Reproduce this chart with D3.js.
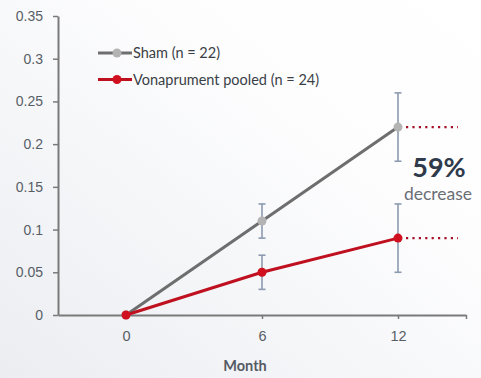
<!DOCTYPE html>
<html>
<head>
<meta charset="utf-8">
<script src="https://cdn.jsdelivr.net/npm/d3@7/dist/d3.min.js"></script>
<style>
  html, body { margin: 0; padding: 0; }
  body { width: 481px; height: 378px; overflow: hidden; }
  svg { display: block; font-family: Lato, "Open Sans", sans-serif; }
</style>
</head>
<body>
<svg id="chart" width="481" height="378"></svg>
<script>
// Months on the x axis
const months = [0, 6, 12];
// Series means and error ranges (half-width)
const shamValues = [0, 0.11, 0.22];
const shamErrors = [0, 0.02, 0.04];
const vonaValues = [0, 0.05, 0.09];
const vonaErrors = [0, 0.02, 0.04];
const yTicks = [0, 0.05, 0.1, 0.15, 0.2, 0.25, 0.3, 0.35];
const seriesNames = ["Sham (n = 22)", "Vonaprument pooled (n = 24)"];
const reduction = "59%";

const svg = d3.select("#chart");
const W = 481, H = 378;
const m = { left: 58, right: 15, top: 16, bottom: 63 };

// soft background gradient
const defs = svg.append("defs");
const grad = defs.append("linearGradient").attr("id", "bg")
  .attr("x1", "0%").attr("y1", "100%").attr("x2", "100%").attr("y2", "0%");
grad.append("stop").attr("offset", "0%").attr("stop-color", "#ebedf1");
grad.append("stop").attr("offset", "65%").attr("stop-color", "#fdfdfe");
grad.append("stop").attr("offset", "100%").attr("stop-color", "#ffffff");
svg.append("rect").attr("width", W).attr("height", H).attr("fill", "url(#bg)");

const x = d3.scaleLinear().domain([-3, 15]).range([m.left, W - m.right]);
const y = d3.scaleLinear().domain([0, 0.35]).range([H - m.bottom, m.top]);

const axisColor = "#7a7a7a";
const textColor = "#585e66";

// y axis
const yAxis = svg.append("g").attr("transform", `translate(${m.left},0)`)
  .call(d3.axisLeft(y).tickValues(yTicks).tickSizeInner(5).tickSizeOuter(0).tickPadding(10)
    .tickFormat(d => d3.format("")(+d.toFixed(2))));
yAxis.select(".domain").attr("stroke", axisColor).attr("stroke-width", 2);
yAxis.selectAll(".tick line").attr("stroke", axisColor).attr("stroke-width", 1.5);
yAxis.selectAll(".tick text").attr("fill", textColor).style("font-size", "14px");

// x axis
const xAxis = svg.append("g").attr("transform", `translate(0,${y(0)})`)
  .call(d3.axisBottom(x).tickValues(months.concat([15])).tickSizeInner(4).tickSizeOuter(0).tickPadding(12)
    .tickFormat(d => months.includes(d) ? d : ""));
xAxis.select(".domain").attr("stroke", axisColor).attr("stroke-width", 2);
xAxis.selectAll(".tick line").attr("stroke", axisColor).attr("stroke-width", 1.5);
xAxis.selectAll(".tick text").attr("fill", textColor).style("font-size", "14.5px");

svg.append("text").attr("x", 245).attr("y", 371).attr("text-anchor", "middle")
  .attr("fill", "#555b63").style("font-size", "14.5px").style("font-weight", "bold").text("Month");

const series = [
  { values: shamValues, errors: shamErrors, line: "#6e6e6e", dot: "#b3b3b3" },
  { values: vonaValues, errors: vonaErrors, line: "#bf1020", dot: "#d0101e" }
];

const errColor = "#8c9ab0";
series.forEach(s => {
  const pts = months.map((mo, i) => ({ mo, v: s.values[i], e: s.errors[i] }));
  // error bars
  const eb = svg.append("g");
  pts.filter(p => p.e > 0).forEach(p => {
    eb.append("line").attr("x1", x(p.mo)).attr("x2", x(p.mo))
      .attr("y1", y(p.v - p.e)).attr("y2", y(p.v + p.e))
      .attr("stroke", errColor).attr("stroke-width", 1.6);
    [p.v - p.e, p.v + p.e].forEach(v => {
      eb.append("line").attr("x1", x(p.mo) - 3.5).attr("x2", x(p.mo) + 3.5)
        .attr("y1", y(v)).attr("y2", y(v))
        .attr("stroke", errColor).attr("stroke-width", 1.6);
    });
  });
});

series.forEach(s => {
  const pts = months.map((mo, i) => ({ mo, v: s.values[i] }));
  svg.append("path").datum(pts)
    .attr("d", d3.line().x(d => x(d.mo)).y(d => y(d.v)))
    .attr("fill", "none").attr("stroke", s.line).attr("stroke-width", 3);
  svg.selectAll(null).data(pts).enter().append("circle")
    .attr("cx", d => x(d.mo)).attr("cy", d => y(d.v)).attr("r", 4.5)
    .attr("fill", s.dot);
});

// dotted reference lines at month 12
const dotColor = "#a8102a";
[shamValues[2], vonaValues[2]].forEach(v => {
  svg.append("line").attr("x1", x(12) + 8).attr("x2", x(12) + 60)
    .attr("y1", y(v)).attr("y2", y(v))
    .attr("stroke", dotColor).attr("stroke-width", 2.2)
    .attr("stroke-dasharray", "2.2,4.2");
});

svg.append("text").attr("x", 439).attr("y", 177).attr("text-anchor", "middle")
  .attr("fill", "#2f3a4a").style("font-size", "27px").style("font-weight", "bold").text(reduction);
svg.append("text").attr("x", 438).attr("y", 200).attr("text-anchor", "middle")
  .attr("fill", "#6a6f76").style("font-size", "17.5px").text("decrease");

// legend
const legend = svg.append("g");
series.forEach((s, i) => {
  const ly = 53 + i * 26.5;
  legend.append("line").attr("x1", 98).attr("x2", 132).attr("y1", ly).attr("y2", ly)
    .attr("stroke", s.line).attr("stroke-width", 3);
  legend.append("circle").attr("cx", 117).attr("cy", ly).attr("r", 4.5).attr("fill", s.dot);
  legend.append("text").attr("x", 133).attr("y", ly + 5)
    .attr("fill", "#3a3f46").style("font-size", "14.5px").text(seriesNames[i]);
});
</script>
</body>
</html>
